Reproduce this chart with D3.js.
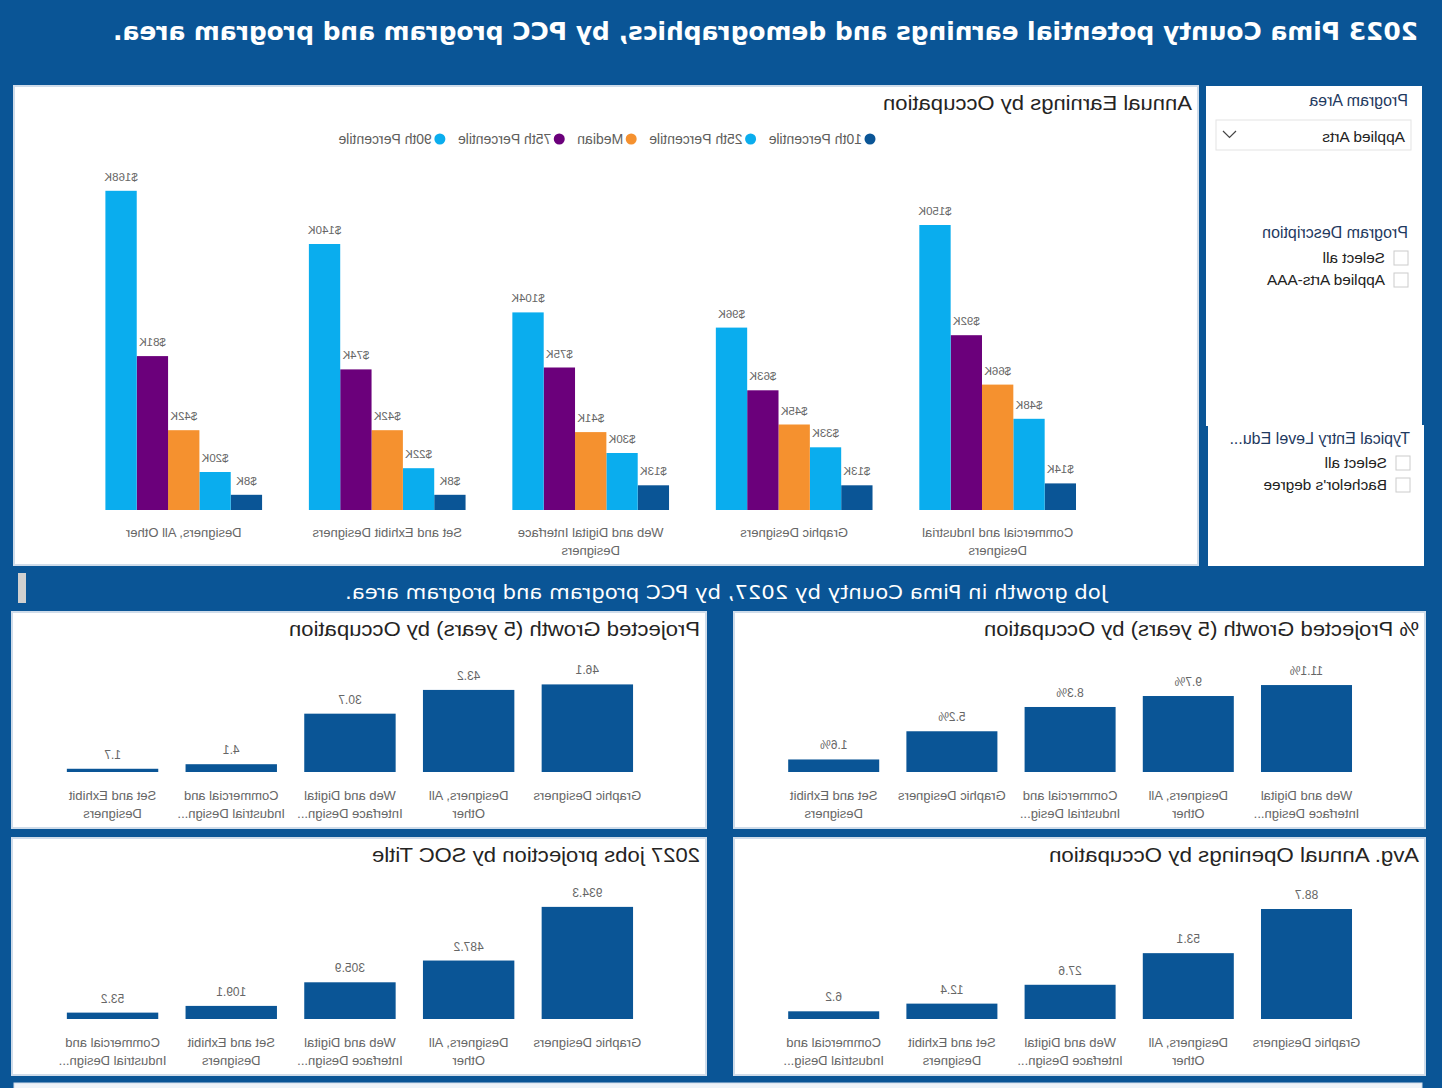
<!DOCTYPE html>
<html><head><meta charset="utf-8">
<script src="https://cdn.jsdelivr.net/npm/d3@7"></script>
<style>html,body{margin:0;padding:0;background:#0A5596;overflow:hidden}</style>
</head><body>
<svg id="c" width="1442" height="1088"></svg>
<script>
// ---------- DATA ----------
const occupations = ["Commercial and Industrial Designers","Graphic Designers","Web and Digital Interface Designers","Set and Exhibit Designers","Designers, All Other"];
const earningsLabels = [["Commercial and Industrial","Designers"],["Graphic Designers"],["Web and Digital Interface","Designers"],["Set and Exhibit Designers"],["Designers, All Other"]];
const percentiles = ["10th Percentile","25th Percentile","Median","75th Percentile","90th Percentile"];
const p10  = [14, 13, 13, 8, 8];
const p25  = [48, 33, 30, 22, 20];
const pMed = [66, 45, 41, 42, 42];
const p75  = [92, 63, 75, 74, 81];
const p90  = [150, 96, 104, 140, 168];

const pctGrowthCats   = [["Web and Digital","Interface Design..."],["Designers, All","Other"],["Commercial and","Industrial Desig..."],["Graphic Designers"],["Set and Exhibit","Designers"]];
const pctGrowthVals   = [11.1, 9.7, 8.3, 5.2, 1.6];

const growthCats      = [["Graphic Designers"],["Designers, All","Other"],["Web and Digital","Interface Design..."],["Commercial and","Industrial Design..."],["Set and Exhibit","Designers"]];
const growthVals      = [46.1, 43.2, 30.7, 4.1, 1.7];

const openingsCats    = [["Graphic Designers"],["Designers, All","Other"],["Web and Digital","Interface Design..."],["Set and Exhibit","Designers"],["Commercial and","Industrial Desig..."]];
const openingsVals    = [88.7, 53.1, 27.6, 12.4, 6.2];

const jobsCats        = [["Graphic Designers"],["Designers, All","Other"],["Web and Digital","Interface Design..."],["Set and Exhibit","Designers"],["Commercial and","Industrial Design..."]];
const jobsVals        = [934.3, 487.2, 305.9, 109.1, 53.2];

// ---------- STYLE ----------
const BG = "#0A5596", DARK = "#0A5596", LIGHT = "#0AADEE", ORANGE = "#F5912F", PURPLE = "#6B007B";
const seriesColors = [DARK, LIGHT, ORANGE, PURPLE, LIGHT];
const FONT = "'Liberation Sans', Arial, sans-serif";

const svg = d3.select("#c");
svg.append("rect").attr("width",1442).attr("height",1088).attr("fill",BG);
// the reference picture is mirrored horizontally
const root = svg.append("g").attr("transform","translate(1442,0) scale(-1,1)");

// page title
root.append("text").attr("x",24).attr("y",40)
  .attr("font-family","'DejaVu Sans', sans-serif").attr("font-weight","bold").attr("font-size",24)
  .attr("fill","#fff").attr("textLength",1305).attr("lengthAdjust","spacingAndGlyphs")
  .text("2023 Pima County potential earnings and demographics, by PCC program and program area.");

// ---------- MAIN PANEL ----------
root.append("rect").attr("x",244).attr("y",86).attr("width",1184).attr("height",479)
  .attr("fill","#fff").attr("stroke","#cfdcea").attr("stroke-width",2);
root.append("text").attr("x",250).attr("y",110).attr("font-family",FONT).attr("font-size",20)
  .attr("fill","#252423").attr("textLength",309).attr("lengthAdjust","spacingAndGlyphs")
  .text("Annual Earnings by Occupation");

// legend
let lx = 572;
percentiles.forEach((p,i)=>{
  root.append("circle").attr("cx",lx).attr("cy",139).attr("r",5.5).attr("fill",seriesColors[i]);
  const t = root.append("text").attr("x",lx+8).attr("y",144).attr("font-family",FONT).attr("font-size",14)
    .attr("fill","#605E5C").text(p);
  lx += 8 + t.node().getComputedTextLength() + 18;
});

const series = [p10,p25,pMed,p75,p90];
const x0 = d3.scaleBand().domain(occupations).range([342.6,1360]).paddingInner(0.23).paddingOuter(0.115);
const x1 = d3.scaleBand().domain(percentiles).range([0,x0.bandwidth()]);
const yE = d3.scaleLinear().domain([0,180]).range([510,168]);

const groups = root.append("g").selectAll("g").data(occupations).join("g")
  .attr("transform",d=>`translate(${x0(d)},0)`);
groups.each(function(occ,oi){
  const g = d3.select(this);
  percentiles.forEach((p,si)=>{
    const v = series[si][oi];
    g.append("rect").attr("x",x1(p)).attr("width",x1.bandwidth()).attr("y",yE(v)).attr("height",yE(0)-yE(v))
      .attr("fill",seriesColors[si]);
    g.append("text").attr("x",x1(p)+x1.bandwidth()/2).attr("y",yE(v)-10).attr("text-anchor","middle")
      .attr("font-family",FONT).attr("font-size",11.5).attr("fill","#666").text("$"+v+"K");
  });
  earningsLabels[oi].forEach((line,li)=>{
    g.append("text").attr("x",x0.bandwidth()/2).attr("y",537+li*18).attr("text-anchor","middle")
      .attr("font-family",FONT).attr("font-size",13).attr("fill","#666").text(line);
  });
});

// ---------- SLICERS ----------
root.append("rect").attr("x",20).attr("y",86).attr("width",216).attr("height",340).attr("fill","#fff");
root.append("rect").attr("x",18).attr("y",425).attr("width",216).attr("height",141).attr("fill","#fff");
const hdr = (x,y,t)=>root.append("text").attr("x",x).attr("y",y).attr("font-family",FONT).attr("font-size",16).attr("fill","#1F3A5F").text(t);
hdr(34,106,"Program Area");
root.append("rect").attr("x",31).attr("y",120).attr("width",195).attr("height",30).attr("fill","#fff").attr("stroke","#e3e3e3");
root.append("text").attr("x",37).attr("y",142).attr("font-family",FONT).attr("font-size",15.5).attr("fill","#222").text("Applied Arts");
root.append("polyline").attr("points","206,131 212.5,137.5 219,131").attr("fill","none").attr("stroke","#444").attr("stroke-width",1.2);
hdr(34,238,"Program Description");
const cb = (x,y,t)=>{
  root.append("rect").attr("x",x).attr("y",y-7).attr("width",14).attr("height",14).attr("fill","#fff").attr("stroke","#ccc");
  root.append("text").attr("x",x+23).attr("y",y+5).attr("font-family",FONT).attr("font-size",15.4).attr("fill","#222").text(t);
};
cb(34,258,"Select all");
cb(34,280,"Applied Arts-AAA");
hdr(32,444,"Typical Entry Level Edu...");
cb(32,463,"Select all");
cb(32,485,"Bachelor's degree");

// ---------- SECTION HEADER ----------
root.append("rect").attr("x",1416).attr("y",573).attr("width",8).attr("height",30).attr("fill","#d0d0d0");
root.append("text").attr("x",716).attr("y",599).attr("text-anchor","middle")
  .attr("font-family","'DejaVu Sans', sans-serif").attr("font-size",19).attr("fill","#fff")
  .attr("textLength",762).attr("lengthAdjust","spacingAndGlyphs")
  .text("Job growth in Pima County by 2027, by PCC program and program area.");

// ---------- SMALL BAR PANELS ----------
function panel(o){
  root.append("rect").attr("x",o.px).attr("y",o.py).attr("width",o.pw).attr("height",o.ph)
    .attr("fill","#fff").attr("stroke","#cfdcea").attr("stroke-width",2);
  root.append("text").attr("x",o.px+6).attr("y",o.py+24).attr("font-family",FONT).attr("font-size",20)
    .attr("fill","#252423").attr("textLength",o.tl).attr("lengthAdjust","spacingAndGlyphs").text(o.title);
  const keys = o.cats.map((c,i)=>i);
  const x = d3.scaleBand().domain(keys).range(o.xr).paddingInner(0.23).paddingOuter(0.115);
  const y = d3.scaleLinear().domain([0,o.max]).range([o.base,o.top]);
  const g = root.append("g");
  g.selectAll("rect").data(o.vals).join("rect")
    .attr("x",(d,i)=>x(i)).attr("width",x.bandwidth()).attr("y",d=>y(d)).attr("height",d=>y(0)-y(d)).attr("fill",DARK);
  g.selectAll("text.v").data(o.vals).join("text").attr("class","v")
    .attr("x",(d,i)=>x(i)+x.bandwidth()/2).attr("y",d=>y(d)-10).attr("text-anchor","middle")
    .attr("font-family",FONT).attr("font-size",12).attr("fill","#666").text(o.fmt);
  o.cats.forEach((lines,i)=>lines.forEach((ln,li)=>{
    g.append("text").attr("x",x(i)+x.bandwidth()/2).attr("y",o.base+28+li*18).attr("text-anchor","middle")
      .attr("font-family",FONT).attr("font-size",13).attr("fill","#666").text(ln);
  }));
}
panel({px:17,py:612,pw:691,ph:216,title:"% Projected Growth (5 years) by Occupation",tl:435,
  cats:pctGrowthCats,vals:pctGrowthVals,max:12,base:772,top:678,xr:[76.4,667.4],fmt:d=>d.toFixed(1)+"%"});
panel({px:736,py:612,pw:694,ph:216,title:"Projected Growth (5 years) by Occupation",tl:411,
  cats:growthCats,vals:growthVals,max:50,base:772,top:677,xr:[795.3,1388.8],fmt:d=>d.toFixed(1)});
panel({px:17,py:838,pw:691,ph:237,title:"Avg. Annual Openings by Occupation",tl:370,
  cats:openingsCats,vals:openingsVals,max:100,base:1019,top:895,xr:[76.4,667.4],fmt:d=>d.toFixed(1)});
panel({px:736,py:838,pw:694,ph:237,title:"2027 jobs projection by SOC Title",tl:328,
  cats:jobsCats,vals:jobsVals,max:1000,base:1019,top:899,xr:[795.3,1388.8],fmt:d=>d.toFixed(1)});

// bottom strip of next panel
root.append("rect").attr("x",20).attr("y",1083).attr("width",1408).attr("height",10).attr("fill","#eef3f8").attr("stroke","#cfdcea");
</script>
</body></html>
